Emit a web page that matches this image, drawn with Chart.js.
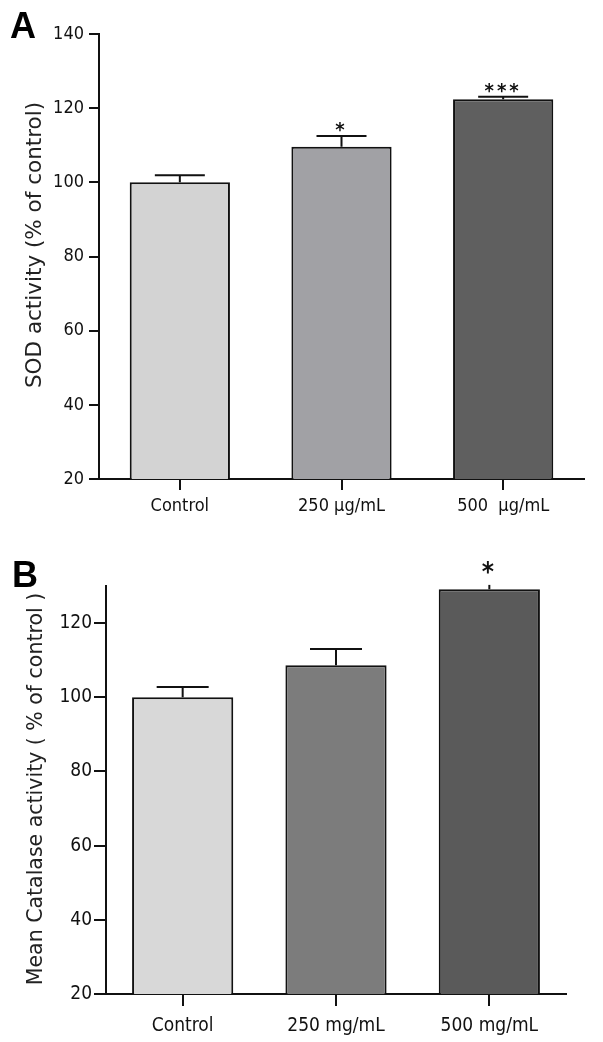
<!DOCTYPE html>
<html>
<head>
<meta charset="utf-8">
<script src="https://cdn.jsdelivr.net/npm/chart.js@4"></script>
<style>
  body { margin: 0; background: #fff; }
  canvas { display: block; }
</style>
</head>
<body>
<canvas id="chartA" width="603" height="520"></canvas>
<canvas id="chartB" width="603" height="522"></canvas>
<script>
// panel A - SOD
const categoriesA = ["Control", "250 \u03bcg/mL", "500  \u03bcg/mL"];
const sodMeans = [100, 109.6, 122.4];
const sodErrors = [1.9, 2.9, 0.7];
const sodStars = ["", "*", "***"];
const sodColors = ["#d3d3d3", "#a1a1a5", "#5f5f5f"];

// panel B - catalase
const categoriesB = ["Control", "250 mg/mL", "500 mg/mL"];
const catalaseMeans = [100, 108.6, 129.1];
const catalaseErrors = [2.8, 4.4, 1.2];
const catalaseStars = ["", "", "*"];
const catalaseColors = ["#d8d8d8", "#7c7c7c", "#5a5a5a"];

const fam = '"DejaVu Sans Condensed", "DejaVu Sans", sans-serif';
const ink = "#111";

const errorBars = {
    id: "errorBars",
    afterDatasetsDraw(chart, args, opts) {
        const ctx = chart.ctx;
        const y = chart.scales.y;
        const meta = chart.getDatasetMeta(0);
        const vals = chart.data.datasets[0].data;
        ctx.save();
        ctx.strokeStyle = ink;
        ctx.lineWidth = 2;
        opts.errors.forEach((e, i) => {
            const bx = meta.data[i].x;
            const yBar = y.getPixelForValue(vals[i]);
            const yTop = y.getPixelForValue(vals[i] + e);
            const cap = opts.caps[i];
            ctx.beginPath();
            ctx.moveTo(bx, yBar);
            ctx.lineTo(bx, yTop);
            if (cap > 0) {
                ctx.moveTo(bx - cap, yTop);
                ctx.lineTo(bx + cap, yTop);
            }
            ctx.stroke();
            if (opts.stars[i]) {
                ctx.fillStyle = ink;
                ctx.font = opts.starFont;
                ctx.letterSpacing = "3px";
                ctx.textAlign = "center";
                ctx.textBaseline = "alphabetic";
                ctx.fillText(opts.stars[i], bx, yTop + opts.starOffset);
                ctx.letterSpacing = "0px";
            }
        });
        // y axis title
        ctx.save();
        ctx.translate(opts.titleX, opts.titleY);
        ctx.rotate(-Math.PI / 2);
        ctx.fillStyle = "#222";
        ctx.font = opts.titleFont;
        ctx.textAlign = "center";
        ctx.textBaseline = "middle";
        ctx.fillText(opts.title, 0, 0);
        ctx.restore();
        // panel letter
        ctx.fillStyle = "#000";
        ctx.font = "bold 36px 'Liberation Sans', Arial, sans-serif";
        ctx.textAlign = "left";
        ctx.textBaseline = "alphabetic";
        ctx.fillText(opts.letter, opts.letterX, opts.letterY);
        ctx.restore();
    }
};

function makeChart(id, cfg) {
    return new Chart(document.getElementById(id), {
        type: "bar",
        data: {
            labels: cfg.labels,
            datasets: [{
                data: cfg.values,
                backgroundColor: cfg.colors,
                borderColor: ink,
                borderWidth: 2,
                borderSkipped: false,
                barPercentage: cfg.barPct,
                categoryPercentage: 1
            }]
        },
        options: {
            responsive: false,
            animation: false,
            devicePixelRatio: 1,
            layout: { padding: cfg.padding },
            plugins: {
                legend: { display: false },
                tooltip: { enabled: false },
                errorBars: cfg.err
            },
            scales: {
                x: {
                    grid: { drawOnChartArea: false, offset: false, tickLength: cfg.xTick, color: ink, lineWidth: 2 },
                    border: { color: ink, width: 2 },
                    ticks: { color: "#111", font: { family: fam, size: cfg.xFont }, padding: cfg.xPad },
                    afterFit(s) { s.height = cfg.xHeight; }
                },
                y: {
                    min: cfg.min,
                    max: cfg.max,
                    grid: { drawOnChartArea: false, tickLength: cfg.yTick, color: ink, lineWidth: 2 },
                    border: { color: ink, width: 2 },
                    ticks: { stepSize: 20, includeBounds: false, color: "#111", font: { family: fam, size: cfg.yFont }, padding: cfg.yPad },
                    afterFit(s) { s.width = cfg.yWidth; }
                }
            }
        },
        plugins: [errorBars]
    });
}

makeChart("chartA", {
    labels: categoriesA, values: sodMeans, colors: sodColors, barPct: 0.62,
    padding: { top: 34, right: 19, left: 0, bottom: 0 },
    min: 20, max: 140,
    xTick: 11, xFont: 18, xPad: 6, xHeight: 41,
    yTick: 10, yFont: 18, yPad: 5, yWidth: 99,
    err: {
        errors: sodErrors, caps: [25, 25, 25], stars: sodStars,
        starFont: "bold 20px " + fam, starOffset: 0,
        title: "SOD activity (% of control)", titleFont: "21.5px 'DejaVu Sans', sans-serif",
        titleX: 35, titleY: 245,
        letter: "A", letterX: 10, letterY: 38
    }
});

makeChart("chartB", {
    labels: categoriesB, values: catalaseMeans, colors: catalaseColors, barPct: 0.66,
    padding: { top: 66, right: 37, left: 0, bottom: 0 },
    min: 20, max: 130,
    xTick: 12, xFont: 19, xPad: 9, xHeight: 48,
    yTick: 12, yFont: 19, yPad: 2, yWidth: 106,
    err: {
        errors: catalaseErrors, caps: [26, 26, 0], stars: catalaseStars,
        starFont: "bold 26px " + fam, starOffset: -4,
        title: "Mean Catalase activity ( % of control )", titleFont: "20.5px 'DejaVu Sans', sans-serif",
        titleX: 37, titleY: 269,
        letter: "B", letterX: 12, letterY: 67
    }
});
</script>
</body>
</html>
